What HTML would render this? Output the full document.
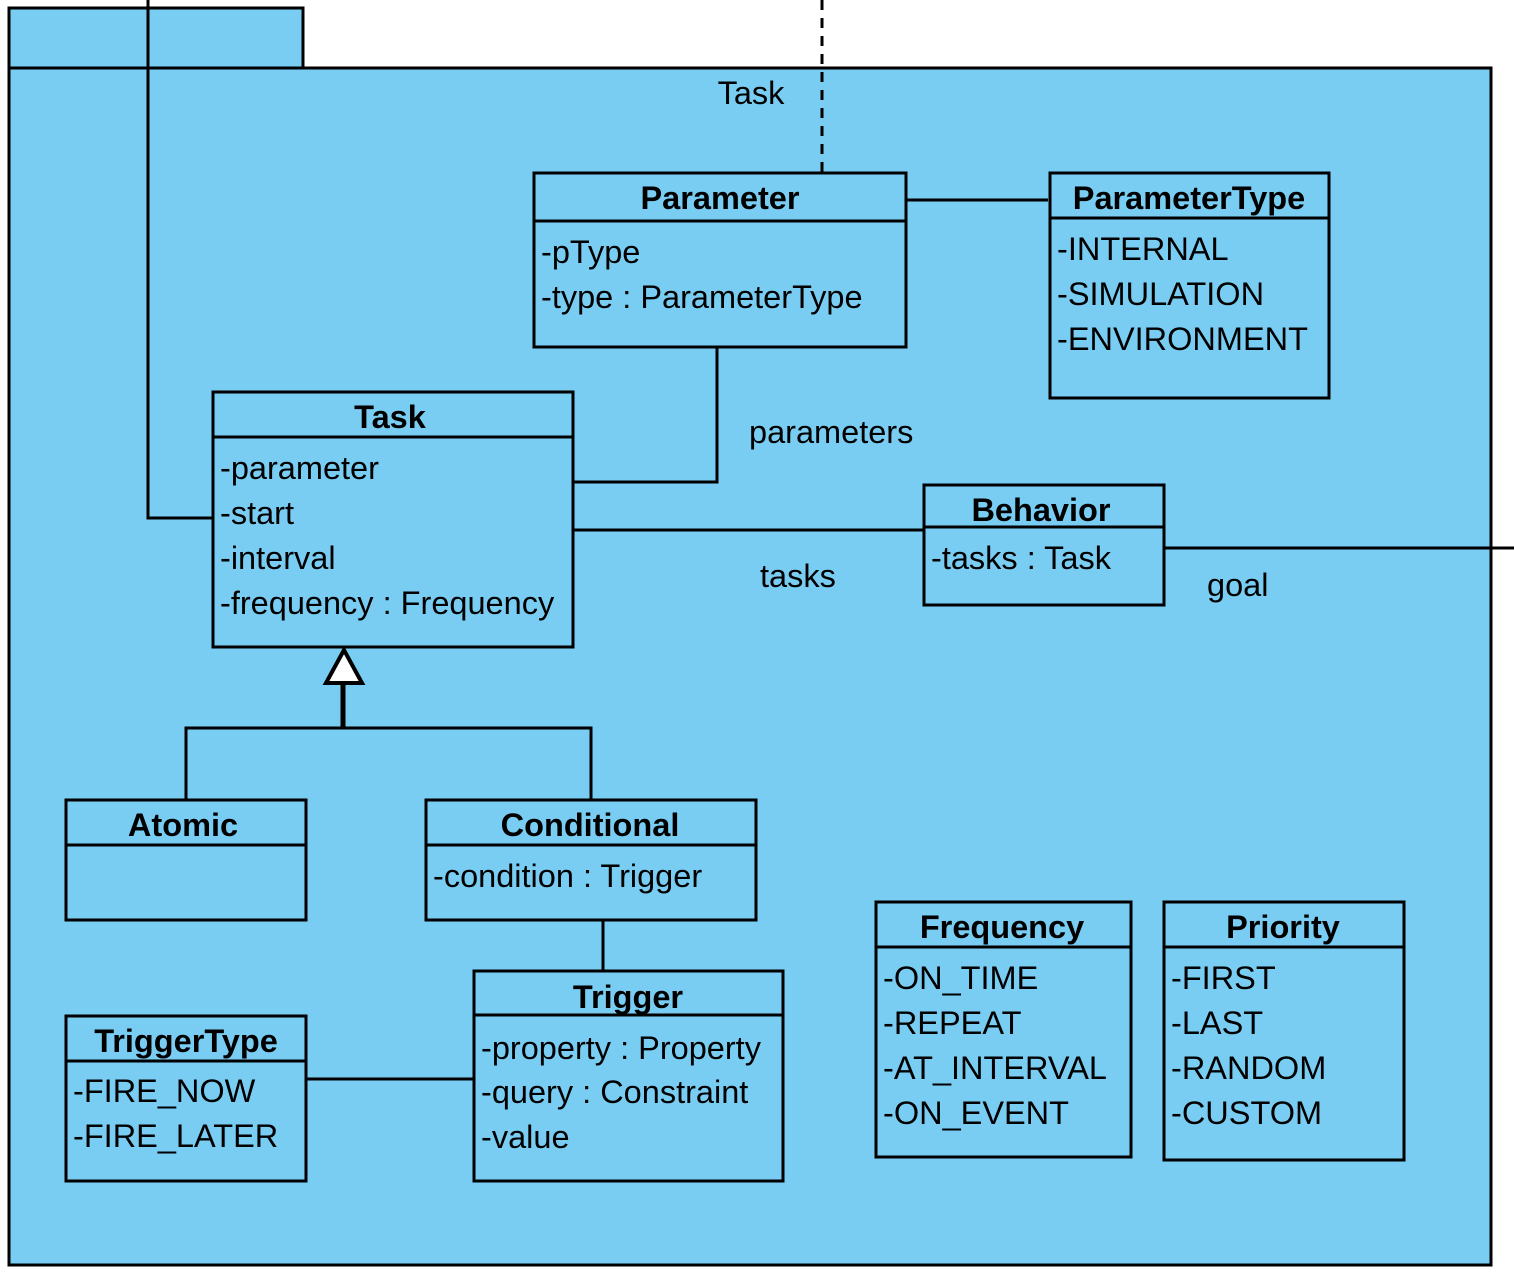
<!DOCTYPE html>
<html><head><meta charset="utf-8"><style>
html,body{margin:0;padding:0;background:#fff}
svg{display:block}
text{font-family:"Liberation Sans",sans-serif;font-size:32.5px;fill:#000}
.b{font-weight:bold;text-anchor:middle}
</style></head><body>
<svg width="1514" height="1280" viewBox="0 0 1514 1280">
<g fill="#79CDF3" stroke="#000" stroke-width="3">
<rect x="9" y="8" width="294" height="60"/>
<rect x="9" y="68" width="1482" height="1197"/>
</g>
<text x="751" y="104" text-anchor="middle">Task</text>
<g stroke="#000" stroke-width="3" fill="none">
<polyline points="148,0 148,518 213,518"/>
<line x1="822" y1="0" x2="822" y2="173" stroke-dasharray="10,8"/>
<line x1="906" y1="200" x2="1048" y2="200"/>
<polyline points="717,347 717,482 573,482"/>
<line x1="573" y1="530" x2="924" y2="530"/>
<line x1="1164" y1="548" x2="1514" y2="548"/>
<polyline points="186,800 186,728 591,728 591,800"/>
<line x1="343" y1="683" x2="343" y2="728" stroke-width="5"/>
<line x1="603" y1="920" x2="603" y2="971"/>
<line x1="306" y1="1079" x2="474" y2="1079"/>
</g>
<polygon points="344,650 326,683 362,683" fill="#fff" stroke="#000" stroke-width="4"/>
<g fill="#79CDF3" stroke="#000" stroke-width="3">
<rect x="534" y="173" width="372" height="174"/><line x1="534" y1="221" x2="906" y2="221"/>
<rect x="1050" y="173" width="279" height="225"/><line x1="1050" y1="218" x2="1329" y2="218"/>
<rect x="213" y="392" width="360" height="255"/><line x1="213" y1="437" x2="573" y2="437"/>
<rect x="924" y="485" width="240" height="120"/><line x1="924" y1="527" x2="1164" y2="527"/>
<rect x="66" y="800" width="240" height="120"/><line x1="66" y1="845" x2="306" y2="845"/>
<rect x="426" y="800" width="330" height="120"/><line x1="426" y1="845" x2="756" y2="845"/>
<rect x="474" y="971" width="309" height="210"/><line x1="474" y1="1015" x2="783" y2="1015"/>
<rect x="66" y="1016" width="240" height="165"/><line x1="66" y1="1061" x2="306" y2="1061"/>
<rect x="876" y="902" width="255" height="255"/><line x1="876" y1="947" x2="1131" y2="947"/>
<rect x="1164" y="902" width="240" height="258"/><line x1="1164" y1="947" x2="1404" y2="947"/>
</g>
<text class="b" x="720" y="209">Parameter</text>
<text x="541" y="263">-pType</text>
<text x="541" y="308">-type : ParameterType</text>
<text class="b" x="1189" y="209">ParameterType</text>
<text x="1057" y="260">-INTERNAL</text>
<text x="1057" y="305">-SIMULATION</text>
<text x="1057" y="350">-ENVIRONMENT</text>
<text x="749" y="443">parameters</text>
<text class="b" x="390" y="428">Task</text>
<text x="220" y="479">-parameter</text>
<text x="220" y="524">-start</text>
<text x="220" y="569">-interval</text>
<text x="220" y="614">-frequency : Frequency</text>
<text x="760" y="587">tasks</text>
<text class="b" x="1041" y="521">Behavior</text>
<text x="931" y="569">-tasks : Task</text>
<text x="1207" y="596">goal</text>
<text class="b" x="183" y="836">Atomic</text>
<text class="b" x="590" y="836">Conditional</text>
<text x="433" y="887">-condition : Trigger</text>
<text class="b" x="628" y="1008">Trigger</text>
<text x="481" y="1059">-property : Property</text>
<text x="481" y="1103">-query : Constraint</text>
<text x="481" y="1148">-value</text>
<text class="b" x="186" y="1052">TriggerType</text>
<text x="73" y="1102">-FIRE_NOW</text>
<text x="73" y="1147">-FIRE_LATER</text>
<text class="b" x="1002" y="938">Frequency</text>
<text x="883" y="989">-ON_TIME</text>
<text x="883" y="1034">-REPEAT</text>
<text x="883" y="1079">-AT_INTERVAL</text>
<text x="883" y="1124">-ON_EVENT</text>
<text class="b" x="1283" y="938">Priority</text>
<text x="1171" y="989">-FIRST</text>
<text x="1171" y="1034">-LAST</text>
<text x="1171" y="1079">-RANDOM</text>
<text x="1171" y="1124">-CUSTOM</text>
</svg>
</body></html>
